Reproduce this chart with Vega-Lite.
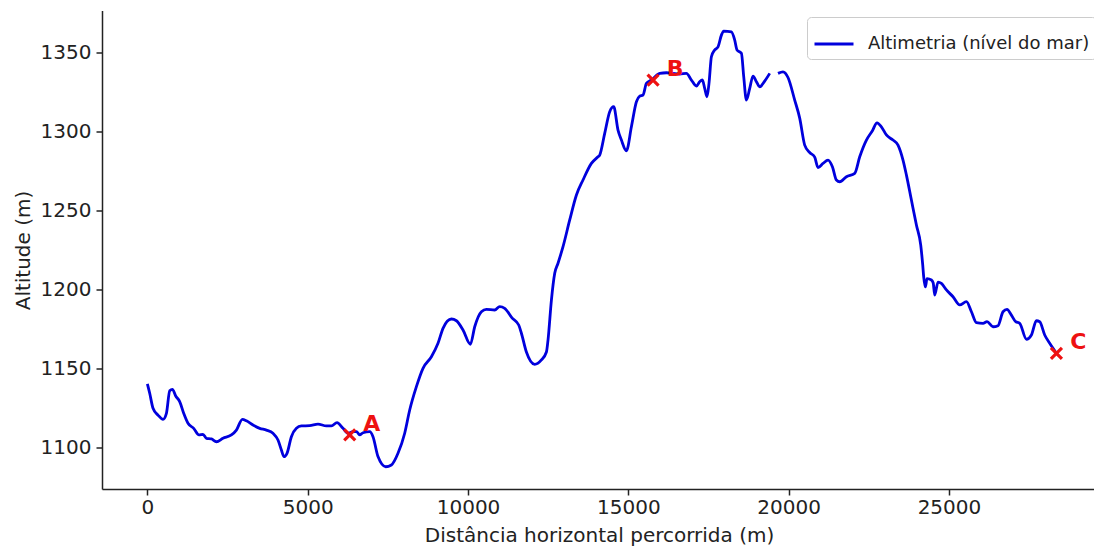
{
  "$schema": "https://vega.github.io/schema/vega-lite/v6.json",
  "width": 992,
  "height": 478.5,
  "autosize": "none",
  "padding": {"left": 102, "top": 10.5, "right": 0, "bottom": 59},
  "config": {
    "font": "DejaVu Sans",
    "view": {"stroke": null},
    "axis": {"grid": false, "domainColor": "#222", "domainWidth": 1.5, "tickColor": "#222", "tickWidth": 1.5, "tickSize": 6, "labelColor": "#222", "titleColor": "#222", "labelFontSize": 20, "titleFontSize": 20, "titleFontWeight": "normal", "labelFont": "DejaVu Sans", "titleFont": "DejaVu Sans"}
  },
  "datasets": {
    "perfil": [
      {"distancia": 0, "altitude": 1140.1, "trecho": 1},
      {"distancia": 72, "altitude": 1134.2, "trecho": 1},
      {"distancia": 175, "altitude": 1124.7, "trecho": 1},
      {"distancia": 331, "altitude": 1120.4, "trecho": 1},
      {"distancia": 487, "altitude": 1117.7, "trecho": 1},
      {"distancia": 593, "altitude": 1121.5, "trecho": 1},
      {"distancia": 696, "altitude": 1135.8, "trecho": 1},
      {"distancia": 780, "altitude": 1136.7, "trecho": 1},
      {"distancia": 883, "altitude": 1132.5, "trecho": 1},
      {"distancia": 1007, "altitude": 1128.9, "trecho": 1},
      {"distancia": 1132, "altitude": 1121.5, "trecho": 1},
      {"distancia": 1266, "altitude": 1115.2, "trecho": 1},
      {"distancia": 1444, "altitude": 1112.0, "trecho": 1},
      {"distancia": 1609, "altitude": 1107.8, "trecho": 1},
      {"distancia": 1734, "altitude": 1108.2, "trecho": 1},
      {"distancia": 1840, "altitude": 1105.7, "trecho": 1},
      {"distancia": 1996, "altitude": 1105.3, "trecho": 1},
      {"distancia": 2152, "altitude": 1103.5, "trecho": 1},
      {"distancia": 2358, "altitude": 1105.7, "trecho": 1},
      {"distancia": 2620, "altitude": 1107.8, "trecho": 1},
      {"distancia": 2776, "altitude": 1110.9, "trecho": 1},
      {"distancia": 2963, "altitude": 1117.7, "trecho": 1},
      {"distancia": 3088, "altitude": 1116.8, "trecho": 1},
      {"distancia": 3294, "altitude": 1114.1, "trecho": 1},
      {"distancia": 3503, "altitude": 1112.0, "trecho": 1},
      {"distancia": 3712, "altitude": 1110.9, "trecho": 1},
      {"distancia": 3917, "altitude": 1108.9, "trecho": 1},
      {"distancia": 4073, "altitude": 1104.6, "trecho": 1},
      {"distancia": 4179, "altitude": 1098.3, "trecho": 1},
      {"distancia": 4261, "altitude": 1094.1, "trecho": 1},
      {"distancia": 4354, "altitude": 1096.2, "trecho": 1},
      {"distancia": 4491, "altitude": 1106.7, "trecho": 1},
      {"distancia": 4647, "altitude": 1112.0, "trecho": 1},
      {"distancia": 4803, "altitude": 1113.5, "trecho": 1},
      {"distancia": 5062, "altitude": 1113.7, "trecho": 1},
      {"distancia": 5321, "altitude": 1114.7, "trecho": 1},
      {"distancia": 5583, "altitude": 1113.5, "trecho": 1},
      {"distancia": 5739, "altitude": 1113.5, "trecho": 1},
      {"distancia": 5914, "altitude": 1115.6, "trecho": 1},
      {"distancia": 6101, "altitude": 1112.0, "trecho": 1},
      {"distancia": 6257, "altitude": 1108.9, "trecho": 1},
      {"distancia": 6413, "altitude": 1109.9, "trecho": 1},
      {"distancia": 6519, "altitude": 1109.9, "trecho": 1},
      {"distancia": 6622, "altitude": 1107.8, "trecho": 1},
      {"distancia": 6725, "altitude": 1109.2, "trecho": 1},
      {"distancia": 6934, "altitude": 1109.9, "trecho": 1},
      {"distancia": 7036, "altitude": 1106.7, "trecho": 1},
      {"distancia": 7192, "altitude": 1094.1, "trecho": 1},
      {"distancia": 7433, "altitude": 1087.7, "trecho": 1},
      {"distancia": 7610, "altitude": 1088.8, "trecho": 1},
      {"distancia": 7816, "altitude": 1096.2, "trecho": 1},
      {"distancia": 8025, "altitude": 1108.9, "trecho": 1},
      {"distancia": 8181, "altitude": 1123.6, "trecho": 1},
      {"distancia": 8390, "altitude": 1138.4, "trecho": 1},
      {"distancia": 8596, "altitude": 1150.0, "trecho": 1},
      {"distancia": 8858, "altitude": 1157.3, "trecho": 1},
      {"distancia": 9064, "altitude": 1165.8, "trecho": 1},
      {"distancia": 9220, "altitude": 1175.3, "trecho": 1},
      {"distancia": 9482, "altitude": 1181.2, "trecho": 1},
      {"distancia": 9638, "altitude": 1180.1, "trecho": 1},
      {"distancia": 9844, "altitude": 1174.2, "trecho": 1},
      {"distancia": 10074, "altitude": 1165.2, "trecho": 1},
      {"distancia": 10209, "altitude": 1176.3, "trecho": 1},
      {"distancia": 10417, "altitude": 1185.8, "trecho": 1},
      {"distancia": 10573, "altitude": 1187.3, "trecho": 1},
      {"distancia": 10832, "altitude": 1186.9, "trecho": 1},
      {"distancia": 10988, "altitude": 1189.1, "trecho": 1},
      {"distancia": 11144, "altitude": 1188.0, "trecho": 1},
      {"distancia": 11378, "altitude": 1181.8, "trecho": 1},
      {"distancia": 11581, "altitude": 1177.4, "trecho": 1},
      {"distancia": 11665, "altitude": 1172.2, "trecho": 1},
      {"distancia": 11821, "altitude": 1160.3, "trecho": 1},
      {"distancia": 12080, "altitude": 1152.5, "trecho": 1},
      {"distancia": 12289, "altitude": 1155.3, "trecho": 1},
      {"distancia": 12445, "altitude": 1160.3, "trecho": 1},
      {"distancia": 12495, "altitude": 1167.9, "trecho": 1},
      {"distancia": 12601, "altitude": 1193.2, "trecho": 1},
      {"distancia": 12704, "altitude": 1210.1, "trecho": 1},
      {"distancia": 12807, "altitude": 1216.5, "trecho": 1},
      {"distancia": 12963, "altitude": 1227.0, "trecho": 1},
      {"distancia": 13172, "altitude": 1243.9, "trecho": 1},
      {"distancia": 13381, "altitude": 1259.7, "trecho": 1},
      {"distancia": 13586, "altitude": 1269.2, "trecho": 1},
      {"distancia": 13848, "altitude": 1279.7, "trecho": 1},
      {"distancia": 14054, "altitude": 1283.9, "trecho": 1},
      {"distancia": 14107, "altitude": 1285.0, "trecho": 1},
      {"distancia": 14263, "altitude": 1298.7, "trecho": 1},
      {"distancia": 14419, "altitude": 1312.4, "trecho": 1},
      {"distancia": 14544, "altitude": 1315.6, "trecho": 1},
      {"distancia": 14678, "altitude": 1300.8, "trecho": 1},
      {"distancia": 14784, "altitude": 1294.5, "trecho": 1},
      {"distancia": 14940, "altitude": 1287.7, "trecho": 1},
      {"distancia": 15096, "altitude": 1302.9, "trecho": 1},
      {"distancia": 15252, "altitude": 1318.7, "trecho": 1},
      {"distancia": 15355, "altitude": 1322.3, "trecho": 1},
      {"distancia": 15458, "altitude": 1323.0, "trecho": 1},
      {"distancia": 15564, "altitude": 1330.4, "trecho": 1},
      {"distancia": 15720, "altitude": 1332.5, "trecho": 1},
      {"distancia": 15979, "altitude": 1336.7, "trecho": 1},
      {"distancia": 16188, "altitude": 1337.1, "trecho": 1},
      {"distancia": 16603, "altitude": 1336.3, "trecho": 1},
      {"distancia": 16811, "altitude": 1336.7, "trecho": 1},
      {"distancia": 16967, "altitude": 1332.5, "trecho": 1},
      {"distancia": 17123, "altitude": 1328.7, "trecho": 1},
      {"distancia": 17226, "altitude": 1331.4, "trecho": 1},
      {"distancia": 17310, "altitude": 1332.5, "trecho": 1},
      {"distancia": 17382, "altitude": 1327.2, "trecho": 1},
      {"distancia": 17454, "altitude": 1321.9, "trecho": 1},
      {"distancia": 17516, "altitude": 1330.4, "trecho": 1},
      {"distancia": 17591, "altitude": 1347.2, "trecho": 1},
      {"distancia": 17694, "altitude": 1351.5, "trecho": 1},
      {"distancia": 17797, "altitude": 1353.5, "trecho": 1},
      {"distancia": 17903, "altitude": 1360.9, "trecho": 1},
      {"distancia": 17975, "altitude": 1363.5, "trecho": 1},
      {"distancia": 18215, "altitude": 1363.0, "trecho": 1},
      {"distancia": 18318, "altitude": 1357.8, "trecho": 1},
      {"distancia": 18390, "altitude": 1351.5, "trecho": 1},
      {"distancia": 18527, "altitude": 1349.4, "trecho": 1},
      {"distancia": 18599, "altitude": 1334.6, "trecho": 1},
      {"distancia": 18683, "altitude": 1319.8, "trecho": 1},
      {"distancia": 18786, "altitude": 1327.2, "trecho": 1},
      {"distancia": 18889, "altitude": 1335.0, "trecho": 1},
      {"distancia": 18995, "altitude": 1331.4, "trecho": 1},
      {"distancia": 19098, "altitude": 1328.2, "trecho": 1},
      {"distancia": 19253, "altitude": 1331.8, "trecho": 1},
      {"distancia": 19410, "altitude": 1336.7, "trecho": 1},
      {"distancia": 19669, "altitude": 1336.7, "trecho": 2},
      {"distancia": 19824, "altitude": 1337.7, "trecho": 2},
      {"distancia": 19980, "altitude": 1334.1, "trecho": 2},
      {"distancia": 20189, "altitude": 1319.8, "trecho": 2},
      {"distancia": 20345, "altitude": 1308.4, "trecho": 2},
      {"distancia": 20501, "altitude": 1291.3, "trecho": 2},
      {"distancia": 20657, "altitude": 1286.6, "trecho": 2},
      {"distancia": 20813, "altitude": 1283.7, "trecho": 2},
      {"distancia": 20916, "altitude": 1277.1, "trecho": 2},
      {"distancia": 21072, "altitude": 1279.7, "trecho": 2},
      {"distancia": 21228, "altitude": 1281.8, "trecho": 2},
      {"distancia": 21365, "altitude": 1277.6, "trecho": 2},
      {"distancia": 21490, "altitude": 1269.2, "trecho": 2},
      {"distancia": 21593, "altitude": 1268.1, "trecho": 2},
      {"distancia": 21802, "altitude": 1271.3, "trecho": 2},
      {"distancia": 22061, "altitude": 1273.4, "trecho": 2},
      {"distancia": 22217, "altitude": 1283.9, "trecho": 2},
      {"distancia": 22426, "altitude": 1294.5, "trecho": 2},
      {"distancia": 22613, "altitude": 1300.4, "trecho": 2},
      {"distancia": 22756, "altitude": 1305.4, "trecho": 2},
      {"distancia": 22893, "altitude": 1302.9, "trecho": 2},
      {"distancia": 23049, "altitude": 1297.7, "trecho": 2},
      {"distancia": 23255, "altitude": 1294.5, "trecho": 2},
      {"distancia": 23411, "altitude": 1291.3, "trecho": 2},
      {"distancia": 23567, "altitude": 1281.8, "trecho": 2},
      {"distancia": 23674, "altitude": 1272.3, "trecho": 2},
      {"distancia": 23829, "altitude": 1256.5, "trecho": 2},
      {"distancia": 23985, "altitude": 1240.7, "trecho": 2},
      {"distancia": 24120, "altitude": 1228.0, "trecho": 2},
      {"distancia": 24182, "altitude": 1215.4, "trecho": 2},
      {"distancia": 24213, "altitude": 1207.8, "trecho": 2},
      {"distancia": 24266, "altitude": 1201.5, "trecho": 2},
      {"distancia": 24316, "altitude": 1206.8, "trecho": 2},
      {"distancia": 24453, "altitude": 1205.9, "trecho": 2},
      {"distancia": 24509, "altitude": 1204.0, "trecho": 2},
      {"distancia": 24556, "altitude": 1196.4, "trecho": 2},
      {"distancia": 24659, "altitude": 1204.6, "trecho": 2},
      {"distancia": 24765, "altitude": 1203.7, "trecho": 2},
      {"distancia": 24921, "altitude": 1199.6, "trecho": 2},
      {"distancia": 25127, "altitude": 1195.3, "trecho": 2},
      {"distancia": 25336, "altitude": 1190.1, "trecho": 2},
      {"distancia": 25545, "altitude": 1192.2, "trecho": 2},
      {"distancia": 25701, "altitude": 1185.8, "trecho": 2},
      {"distancia": 25857, "altitude": 1178.9, "trecho": 2},
      {"distancia": 26063, "altitude": 1178.5, "trecho": 2},
      {"distancia": 26187, "altitude": 1179.5, "trecho": 2},
      {"distancia": 26374, "altitude": 1176.3, "trecho": 2},
      {"distancia": 26530, "altitude": 1177.0, "trecho": 2},
      {"distancia": 26686, "altitude": 1185.8, "trecho": 2},
      {"distancia": 26811, "altitude": 1187.3, "trecho": 2},
      {"distancia": 26948, "altitude": 1183.7, "trecho": 2},
      {"distancia": 27082, "altitude": 1179.5, "trecho": 2},
      {"distancia": 27207, "altitude": 1178.5, "trecho": 2},
      {"distancia": 27416, "altitude": 1168.4, "trecho": 2},
      {"distancia": 27572, "altitude": 1171.1, "trecho": 2},
      {"distancia": 27728, "altitude": 1180.1, "trecho": 2},
      {"distancia": 27831, "altitude": 1179.5, "trecho": 2},
      {"distancia": 27987, "altitude": 1171.1, "trecho": 2},
      {"distancia": 28143, "altitude": 1165.8, "trecho": 2},
      {"distancia": 28352, "altitude": 1159.5, "trecho": 2}
    ],
    "pontos": [
      {"ponto": "A", "distancia": 6310, "altitude": 1107.8},
      {"ponto": "B", "distancia": 15771, "altitude": 1332.5},
      {"ponto": "C", "distancia": 28352, "altitude": 1159.5}
    ]
  },
  "encoding": {
    "x": {
      "field": "distancia", "type": "quantitative",
      "scale": {"domain": [-1416, 29524], "nice": false, "zero": false},
      "axis": {"title": "Distância horizontal percorrida (m)", "values": [0, 5000, 10000, 15000, 20000, 25000], "format": "d", "labelPadding": 2, "labelFlush": false, "titleX": 497, "titleY": 52.7, "titleBaseline": "alphabetic", "titleAnchor": "middle"}
    },
    "y": {
      "field": "altitude", "type": "quantitative",
      "scale": {"domain": [1073.6, 1376.5], "nice": false, "zero": false},
      "axis": {"title": "Altitude (m)", "values": [1100, 1150, 1200, 1250, 1300, 1350], "format": "d", "labelPadding": 5, "labelFlush": false, "titleX": -72.5, "titleY": 239.5, "titleBaseline": "alphabetic", "titleAngle": -90}
    }
  },
  "layer": [
    {
      "data": {"name": "perfil"},
      "mark": {"type": "line", "strokeWidth": 2.8, "interpolate": "monotone"},
      "encoding": {
        "detail": {"field": "trecho", "type": "nominal"},
        "color": {
          "datum": "Altimetria (nível do mar)",
          "type": "nominal",
          "scale": {"range": ["#0000dd"]},
          "legend": {
            "title": null, "orient": "none", "legendX": 705, "legendY": 6.5,
            "symbolType": "stroke", "symbolSize": 1521, "symbolStrokeWidth": 2.8,
            "labelFontSize": 18, "labelFont": "DejaVu Sans", "labelColor": "#222", "labelOffset": 13, "labelLimit": 400,
            "padding": 6, "fillColor": "white", "strokeColor": "#cccccc", "cornerRadius": 4
          }
        }
      }
    },
    {
      "data": {"name": "pontos"},
      "mark": {"type": "point", "shape": "M-1,-1L1,1M-1,1L1,-1", "size": 121, "filled": false, "stroke": "#ee1111", "strokeWidth": 3.2, "opacity": 1}
    },
    {
      "data": {"name": "pontos"},
      "mark": {"type": "text", "color": "#ee1111", "fontSize": 22, "fontWeight": "bold", "font": "DejaVu Sans", "dx": 22, "dy": -11, "align": "center", "baseline": "middle"},
      "encoding": {"text": {"field": "ponto"}}
    }
  ]
}
